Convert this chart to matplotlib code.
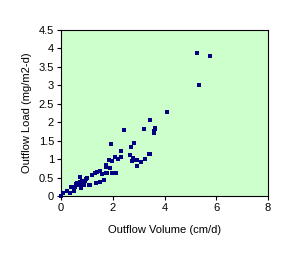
import matplotlib
matplotlib.use("Agg")
import matplotlib.pyplot as plt

plt.rcParams['font.family'] = ['Liberation Sans', 'DejaVu Sans']

# outflow volume (cm/d) vs outflow load (mg/m2-d)
outflow_volume = [0.00, 0.09, 0.24, 0.35, 0.39, 0.50, 0.55, 0.59, 0.66, 0.72, 0.73, 0.77,
                  0.82, 0.86, 0.90, 0.96, 1.02, 1.09, 1.14, 1.21, 1.30, 1.36, 1.38, 1.49,
                  1.49, 1.57, 1.66, 1.72, 1.72, 1.72, 1.76, 1.85, 1.89, 1.93, 1.97, 1.99,
                  2.08, 2.12, 2.20, 2.30, 2.30, 2.42, 2.66, 2.69, 2.74, 2.78, 2.82, 2.84,
                  2.92, 2.92, 3.09, 3.20, 3.23, 3.40, 3.43, 3.43, 3.59, 3.61, 3.63, 3.64,
                  4.08, 5.27, 5.32, 5.77, 0.62, 0.80, 0.92]
outflow_load = [0.00, 0.07, 0.14, 0.09, 0.25, 0.14, 0.25, 0.33, 0.30, 0.52, 0.39, 0.23,
                0.40, 0.36, 0.29, 0.46, 0.48, 0.30, 0.30, 0.58, 0.62, 0.36, 0.65, 0.39,
                0.68, 0.60, 0.43, 0.61, 0.78, 0.85, 0.62, 0.98, 0.75, 1.42, 0.95, 0.61,
                1.06, 0.63, 1.01, 1.23, 1.07, 1.80, 1.12, 1.34, 0.94, 1.04, 0.97, 1.45,
                0.82, 0.97, 0.93, 1.82, 0.99, 1.15, 1.15, 2.07, 1.75, 1.70, 1.84, 1.81,
                2.29, 3.89, 3.01, 3.80, 0.35, 0.32, 0.41]

fig = plt.figure(figsize=(3.03, 2.57), dpi=100)
ax = fig.add_axes([61 / 303, 1 - 196 / 257, 207 / 303, 166 / 257])
ax.set_facecolor('#CCFFCC')

ax.scatter(outflow_volume, outflow_load, marker='s', s=12, color='#000080',
           linewidths=0, zorder=3, clip_on=False)

ax.set_xlim(0, 8)
ax.set_ylim(0, 4.5)
ax.set_xticks([0, 2, 4, 6, 8])
ax.set_yticks([0, 0.5, 1, 1.5, 2, 2.5, 3, 3.5, 4, 4.5])
ax.set_yticklabels(['0', '0.5', '1', '1.5', '2', '2.5', '3', '3.5', '4', '4.5'])
ax.tick_params(direction='out', length=3, width=0.8, labelsize=8, pad=2, color='black')
for s in ax.spines.values():
    s.set_linewidth(0.8)
    s.set_color('black')

ax.set_xlabel('Outflow Volume (cm/d)', fontsize=8, labelpad=9)
ax.set_ylabel('Outflow Load (mg/m2-d)', fontsize=8, labelpad=5)

fig.savefig('out.png', dpi=100)
